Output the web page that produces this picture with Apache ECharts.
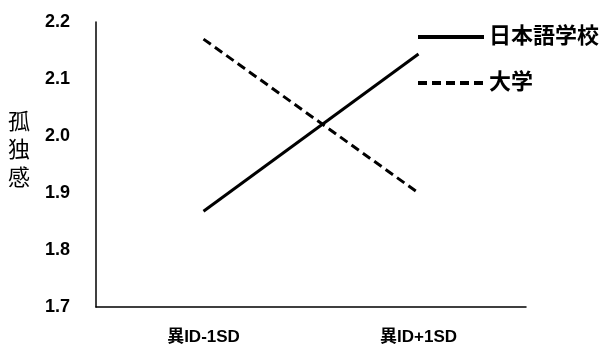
<!DOCTYPE html>
<html>
<head>
<meta charset="utf-8">
<script src="https://cdn.jsdelivr.net/npm/echarts@6/dist/echarts.min.js"></script>
<style>
  html, body { margin: 0; padding: 0; background: #fff; }
  #chart { width: 601px; height: 347px; }
</style>
</head>
<body>
<div id="chart"></div>
<script>
// data
var categories = ['異ID-1SD', '異ID+1SD'];
var schoolValues = [1.868, 2.144];   // 日本語学校
var univValues = [2.170, 1.900];     // 大学
var yTicks = [1.7, 1.8, 1.9, 2.0, 2.1, 2.2];

var chart = echarts.init(document.getElementById('chart'));
var font = "'Liberation Sans', 'Noto Sans CJK JP', sans-serif";

var option = {
    animation: false,
    backgroundColor: '#fff',
    grid: { left: 96, right: 75, top: 22, bottom: 40, outerBoundsMode: 'none', containLabel: false },
    legend: {
        orient: 'vertical',
        left: 411,
        top: 21,
        itemWidth: 66,
        itemHeight: 14,
        itemGap: 24,
        itemStyle: { opacity: 0 },
        lineStyle: { width: 4 },
        textStyle: { color: '#000', fontSize: 22, fontWeight: 'bold', fontFamily: font },
        data: ['日本語学校', '大学']
    },
    xAxis: {
        type: 'category',
        data: categories,
        boundaryGap: true,
        axisLine: { lineStyle: { color: '#000', width: 1.5 } },
        axisTick: { show: false },
        axisLabel: { color: '#000', fontSize: 17, fontWeight: 'bold', fontFamily: font, margin: 22 }
    },
    yAxis: {
        type: 'value',
        min: yTicks[0],
        max: yTicks[yTicks.length - 1],
        interval: 0.1,
        // trailing empty line lifts the name a little above the middle
        name: '孤\n独\n感\n',
        nameLocation: 'middle',
        nameRotate: 0,
        nameGap: 66,
        nameTextStyle: { color: '#000', fontSize: 22, lineHeight: 28, fontFamily: font },
        axisLine: { show: true, lineStyle: { color: '#000', width: 1.5 } },
        axisTick: { show: false },
        splitLine: { show: false },
        axisLabel: {
            color: '#000', fontSize: 18, fontWeight: 'bold', fontFamily: font, margin: 26,
            formatter: function (v) { return v.toFixed(1); }
        }
    },
    series: [
        {
            name: '日本語学校',
            type: 'line',
            data: schoolValues,
            symbol: 'none',
            lineStyle: { color: '#000', width: 3, type: 'solid' },
            itemStyle: { color: '#000' }
        },
        {
            name: '大学',
            type: 'line',
            data: univValues,
            symbol: 'none',
            lineStyle: { color: '#000', width: 3, type: [9, 5] },
            itemStyle: { color: '#000' }
        }
    ]
};
chart.setOption(option);
</script>
</body>
</html>
